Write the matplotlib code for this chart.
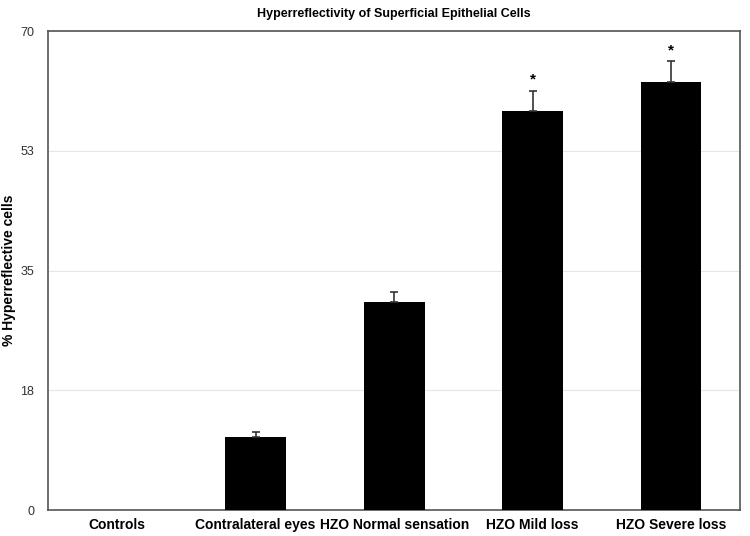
import numpy as np
import matplotlib
matplotlib.use("Agg")
import matplotlib.pyplot as plt

plt.rcParams['font.family'] = ['Liberation Sans', 'DejaVu Sans']

# data
groups = ["Controls", "Contralateral eyes", "HZO Normal sensation",
          "HZO Mild loss", "HZO Severe loss"]
means = [0.0, 10.7, 30.4, 58.3, 62.6]
errs = [0.0, 0.7, 1.4, 3.0, 3.0]
signif = [False, False, False, True, True]
yticks = [0, 17.5, 35, 52.5, 70]
ytick_labels = ["0", "18", "35", "53", "70"]

fig = plt.figure(figsize=(7.5, 5.36), dpi=100)
ax = fig.add_axes([0.064, 0.0485, 0.923, 0.8935])

x = np.arange(len(groups))
ax.bar(x, means, width=0.44, color="black", zorder=3)
for i in range(len(groups)):
    if errs[i] > 0:
        ax.errorbar(x[i], means[i], yerr=[[0], [errs[i]]], fmt="none",
                    ecolor="#333333", elinewidth=1.2, capsize=3,
                    capthick=1.2, zorder=4)
    if signif[i]:
        ax.text(x[i], means[i] + errs[i] + 0.6, "*", ha="center",
                va="bottom", fontsize=11, fontweight="bold")

ax.set_xlim(-0.5, len(groups) - 0.5)
ax.set_ylim(0, 70)
ax.set_yticks(yticks)
ax.set_yticklabels(ytick_labels, fontsize=9, color="#333333")
ax.set_xticks(x)
ax.set_xticklabels(groups, fontsize=10, fontweight="bold")
ax.tick_params(length=0, pad=6)
ax.tick_params(axis="y", pad=10)
ax.yaxis.grid(True, color="#e6e6e6", linewidth=0.8, zorder=0)
for s in ax.spines.values():
    s.set_color("#555555")
    s.set_linewidth(1.2)

ax.set_ylabel("% Hyperreflective cells", fontsize=10, fontweight="bold",
              labelpad=3)
ax.set_title("Hyperreflectivity of Superficial Epithelial Cells",
             fontsize=9, fontweight="bold", pad=10)

fig.savefig("out.png", dpi=100)
